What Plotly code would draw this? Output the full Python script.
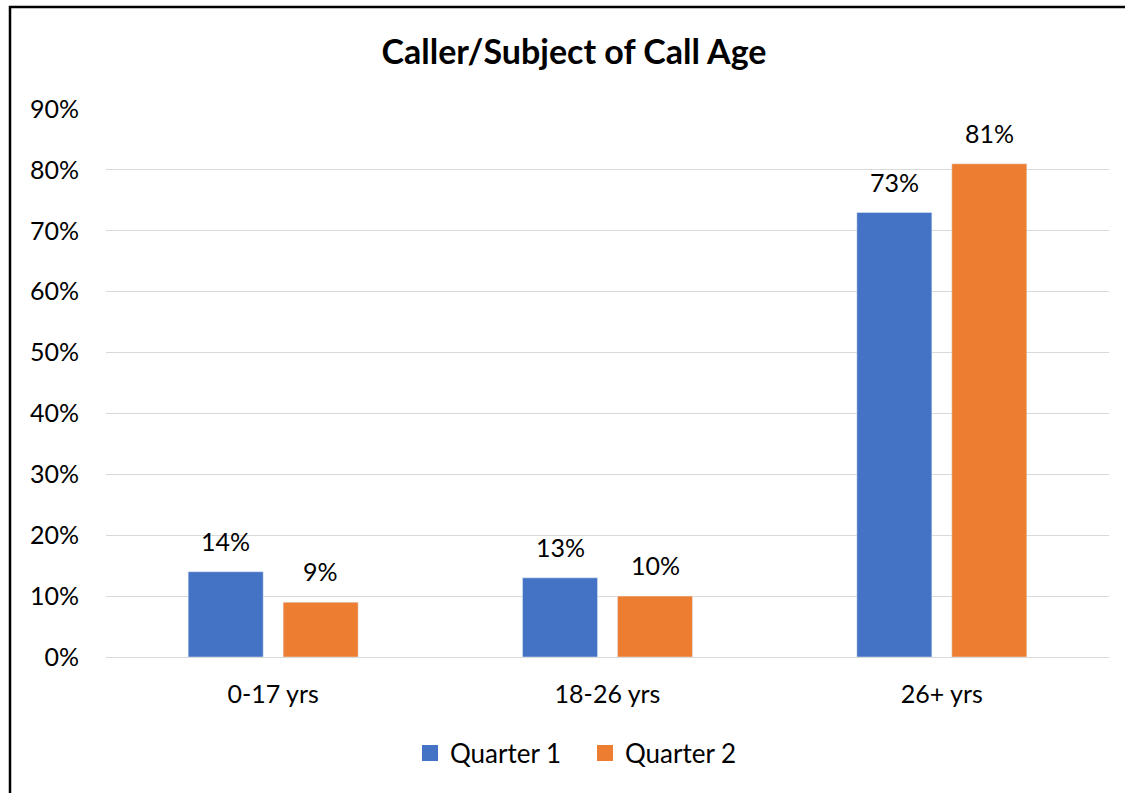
import plotly.graph_objects as go

categories = ["0-17 yrs", "18-26 yrs", "26+ yrs"]
quarter1 = [0.14, 0.13, 0.73]
quarter2 = [0.09, 0.10, 0.81]
series_names = ["Quarter 1", "Quarter 2"]
series_colors = ["#4472C4", "#ED7D31"]
tick_vals = [0, 0.1, 0.2, 0.3, 0.4, 0.5, 0.6, 0.7, 0.8, 0.9]
tick_text = ["0%", "10%", "20%", "30%", "40%", "50%", "60%", "70%", "80%", "90%"]

FONT = "Lato, 'Open Sans', sans-serif"
FS = 25

L, R, T, B = 106, 16, 109, 136
W, H = 1125, 793
pw, ph = W - L - R, H - T - B


def px_to_paper_x(px):
    return (px - L) / pw


def py_to_paper_y(py):
    return (H - B - py) / ph


fig = go.Figure()
series = [quarter1, quarter2]
for name, vals, col in zip(series_names, series, series_colors):
    fig.add_trace(go.Bar(name=name, x=categories, y=vals, marker_color=col,
                         showlegend=False))
    # legend proxy with larger square swatch
    fig.add_trace(go.Scatter(name=name, x=[None], y=[None], mode="markers",
                             marker=dict(symbol="square", size=16, color=col),
                             showlegend=True))

# value labels above bars
slot_px = 95
shifts = [-slot_px / 2, slot_px / 2]
for vals, xs in zip(series, shifts):
    for cat, v in zip(categories, vals):
        fig.add_annotation(x=cat, y=v, xref="x", yref="y", text=f"{round(v * 100)}%",
                           showarrow=False, xshift=xs, yshift=14, yanchor="bottom",
                           font=dict(size=FS, color="black", family=FONT))

fig.update_layout(
    width=W, height=H,
    margin=dict(l=L, r=R, t=T, b=B),
    paper_bgcolor="white", plot_bgcolor="white",
    font=dict(family=FONT, size=FS, color="black"),
    title=dict(text="<b>Caller/Subject of Call Age</b>", x=574 / W, xanchor="center",
               y=1 - 52 / H, yanchor="middle", font=dict(size=34, family=FONT)),
    barmode="group", bargap=0.432, bargroupgap=0.21,
    legend=dict(orientation="h", x=px_to_paper_x(585), xanchor="center",
                y=py_to_paper_y(753), yanchor="middle", font=dict(size=26),
                traceorder="normal", itemsizing="trace", entrywidth=130),
    yaxis=dict(range=[0, 0.9], tickvals=tick_vals, ticktext=tick_text,
               showgrid=True, gridcolor="#d9d9d9", gridwidth=1,
               zeroline=True, zerolinecolor="#d9d9d9", zerolinewidth=1,
               showline=False, ticks="", ticklabelstandoff=26,
               tickfont=dict(size=FS)),
    xaxis=dict(showline=False, ticks="", ticklabelstandoff=20,
               tickfont=dict(size=FS)),
    showlegend=True,
)

fig.add_shape(type="rect", xref="paper", yref="paper",
              x0=px_to_paper_x(10), x1=px_to_paper_x(1135),
              y0=py_to_paper_y(805), y1=py_to_paper_y(7),
              line=dict(color="black", width=2.5), layer="above")

fig.write_html("out.html", config={"displayModeBar": False},
               post_script="document.body.style.margin='0';")
